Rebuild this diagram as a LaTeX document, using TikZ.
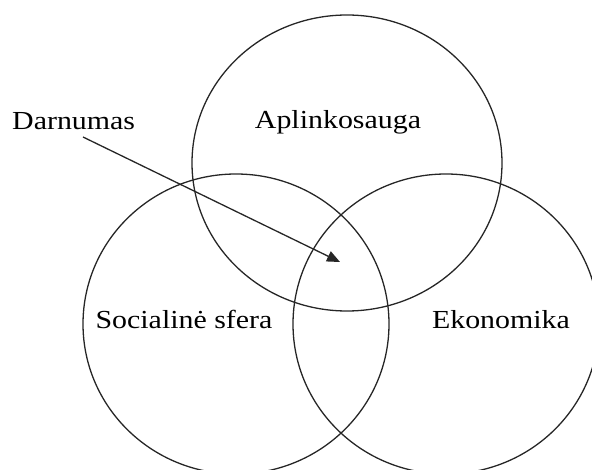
\documentclass[tikz,border=0pt]{standalone}
\usepackage{fontspec}
\setmainfont{Liberation Serif}
\usetikzlibrary{arrows.meta}
\begin{document}
\begin{tikzpicture}[x=1pt,y=-1pt,
  ring/.style={draw=black!85,line width=1.3pt},
  label/.style={inner sep=0pt,font=\fontsize{26}{30}\selectfont,xscale=1.15},
  pointer/.style={draw=black!85,line width=1.3pt,-{Triangle[length=13pt,width=11pt]}}]
\useasboundingbox (0,0) rectangle (592,470);
% three overlapping spheres
\draw[ring] (347,163) ellipse [x radius=155pt, y radius=148pt];
\draw[ring] (236,324) ellipse [x radius=153pt, y radius=150pt];
\draw[ring] (446,324) ellipse [x radius=153pt, y radius=150pt];
% labels
\node[label,anchor=base west] (darn) at (12,130) {Darnumas};
\node[label,anchor=base] (aplink) at (338,129) {Aplinkosauga};
\node[label,anchor=base] (soc) at (184,329) {Socialinė sfera};
\node[label,anchor=base] (ekon) at (501,329) {Ekonomika};
% pointer into the common area
\coordinate (from) at (83,137);
\coordinate (core) at (340,262);
\draw[pointer] (from) -- (core);
\end{tikzpicture}
\end{document}
